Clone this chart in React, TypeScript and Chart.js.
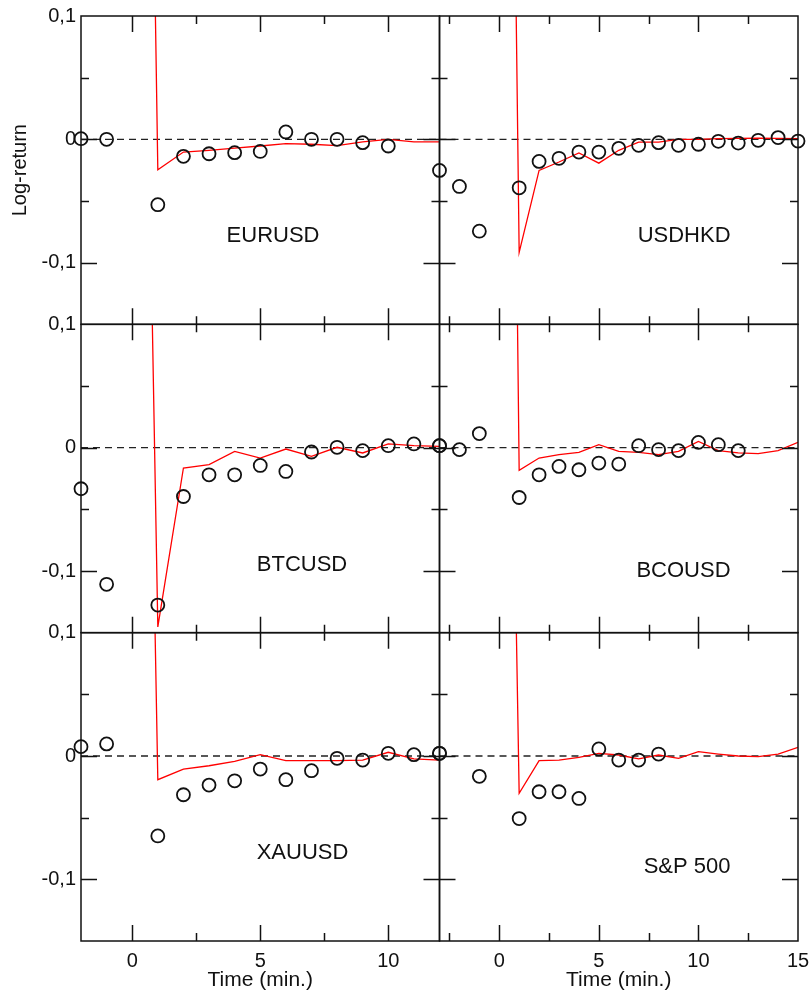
import React, { useEffect, useRef } from 'react';
import { Chart, registerables } from 'chart.js';

Chart.register(...registerables);

// ---------------- data ----------------
const X_RANGE_LEFT = [-2, 12];
const X_RANGE_RIGHT = [-3, 15];
const Y_RANGE = [-0.15, 0.1];

const X_LABELS_LEFT = [0, 5, 10];
const X_LABELS_RIGHT = [0, 5, 10, 15];
const Y_LABELS = [-0.1, 0, 0.1];
const X_MAJOR = [0, 5, 10, 15];
const X_MINOR = [-2.5, 2.5, 7.5, 12.5];
const Y_MAJOR = [-0.1, 0, 0.1];
const Y_MINOR = [-0.05, 0.05];

const MODEL_T_LEFT = [0, 1, 2, 3, 4, 5, 6, 7, 8, 9, 10, 11, 12];
const MODEL_T_RIGHT = [0, 1, 2, 3, 4, 5, 6, 7, 8, 9, 10, 11, 12, 13, 14, 15];

const EURUSD_T = [-2, -1, 1, 2, 3, 4, 5, 6, 7, 8, 9, 10];
const EURUSD_OBS = [0.0005, 0.0, -0.053, -0.0138, -0.0117, -0.0108, -0.0098, 0.006, 0.0, 0.0, -0.0027, -0.0054];
const EURUSD_MODEL = [1.3, -0.0247, -0.0103, -0.0089, -0.0071, -0.0054, -0.0035, -0.004, -0.0051, -0.0021, 0.0, -0.0021, -0.0021];

const USDHKD_T = [-3, -2, -1, 1, 2, 3, 4, 5, 6, 7, 8, 9, 10, 11, 12, 13, 14, 15];
const USDHKD_OBS = [-0.0252, -0.0382, -0.0745, -0.0393, -0.0179, -0.0154, -0.0103, -0.0103, -0.0073, -0.0049, -0.0027, -0.0049, -0.004, -0.0016, -0.003, -0.0008, 0.0014, -0.0014];
const USDHKD_MODEL = [1.2, -0.0916, -0.0252, -0.0184, -0.0111, -0.0193, -0.0089, -0.0022, -0.0022, 0.0, 0.0, 0.0005, 0.0008, 0.001, 0.0008, 0.0005];

const BTCUSD_T = [-2, -1, 1, 2, 3, 4, 5, 6, 7, 8, 9, 10, 11, 12];
const BTCUSD_OBS = [-0.0333, -0.1108, -0.1276, -0.0396, -0.022, -0.022, -0.0144, -0.0193, -0.0035, 0.0003, -0.0024, 0.0016, 0.003, 0.0016];
const BTCUSD_MODEL = [1.0, -0.1453, -0.0165, -0.0138, -0.003, -0.0084, -0.0011, -0.0071, 0.0003, -0.0043, 0.003, 0.0016, 0.001];

const BCOUSD_T = [-3, -2, -1, 1, 2, 3, 4, 5, 6, 7, 8, 9, 10, 11, 12];
const BCOUSD_OBS = [0.0016, -0.0016, 0.0114, -0.0404, -0.022, -0.0152, -0.0179, -0.0125, -0.0133, 0.0016, -0.0016, -0.0024, 0.0043, 0.0024, -0.0024];
const BCOUSD_MODEL = [1.4, -0.0184, -0.0084, -0.0057, -0.0038, 0.0024, -0.003, -0.0038, -0.0057, -0.003, 0.0051, -0.0024, -0.0043, -0.0049, -0.0024, 0.0043];

const XAUUSD_T = [-2, -1, 1, 2, 3, 4, 5, 6, 7, 8, 9, 10, 11, 12];
const XAUUSD_OBS = [0.0076, 0.0098, -0.0648, -0.0314, -0.0236, -0.0201, -0.0106, -0.0192, -0.0119, -0.0019, -0.0033, 0.0022, 0.0011, 0.0022];
const XAUUSD_MODEL = [1.1, -0.0192, -0.0106, -0.0079, -0.0043, 0.0011, -0.0038, -0.0038, -0.0038, -0.0033, 0.003, -0.0024, -0.0033];

const SP500_T = [-3, -1, 1, 2, 3, 4, 5, 6, 7, 8];
const SP500_OBS = [0.0022, -0.0165, -0.0507, -0.029, -0.029, -0.0344, 0.0057, -0.0033, -0.0033, 0.0016];
const SP500_MODEL = [0.9, -0.0303, -0.0038, -0.0033, -0.0011, 0.0022, 0.0008, -0.0024, 0.0008, -0.0019, 0.0035, 0.0016, 0.0, -0.0005, 0.0016, 0.007];

// ---------------- panel setup ----------------
const FONT = '"Liberation Sans", Arial, Helvetica, sans-serif';
const INK = '#111111';

const PANELS = [
  { name: 'EURUSD', x: 'xL', y: 'yT', range: X_RANGE_LEFT, t: EURUSD_T, obs: EURUSD_OBS, mt: MODEL_T_LEFT, model: EURUSD_MODEL, lx: 5.5, ly: -0.0785 },
  { name: 'USDHKD', x: 'xR', y: 'yT', range: X_RANGE_RIGHT, t: USDHKD_T, obs: USDHKD_OBS, mt: MODEL_T_RIGHT, model: USDHKD_MODEL, lx: 9.28, ly: -0.078 },
  { name: 'BTCUSD', x: 'xL', y: 'yM', range: X_RANGE_LEFT, t: BTCUSD_T, obs: BTCUSD_OBS, mt: MODEL_T_LEFT, model: BTCUSD_MODEL, lx: 6.63, ly: -0.0951 },
  { name: 'BCOUSD', x: 'xR', y: 'yM', range: X_RANGE_RIGHT, t: BCOUSD_T, obs: BCOUSD_OBS, mt: MODEL_T_RIGHT, model: BCOUSD_MODEL, lx: 9.25, ly: -0.0996 },
  { name: 'XAUUSD', x: 'xL', y: 'yB', range: X_RANGE_LEFT, t: XAUUSD_T, obs: XAUUSD_OBS, mt: MODEL_T_LEFT, model: XAUUSD_MODEL, lx: 6.65, ly: -0.0786 },
  { name: 'S&P 500', x: 'xR', y: 'yB', range: X_RANGE_RIGHT, t: SP500_T, obs: SP500_OBS, mt: MODEL_T_RIGHT, model: SP500_MODEL, lx: 9.43, ly: -0.0902 },
];

const fmtY = (v: number) => (Math.abs(v) < 1e-9 ? '0' : v.toFixed(1).replace('.', ','));

const panelClip = {
  id: 'panelClip',
  beforeDatasetDraw(chart: any, args: any) {
    const ds = chart.data.datasets[args.index];
    if (ds.clip === false) return;
    const { xScale, yScale } = args.meta;
    const ctx = chart.ctx;
    ctx.save();
    ctx.beginPath();
    ctx.rect(xScale.left, yScale.top, xScale.right - xScale.left, yScale.bottom - yScale.top);
    ctx.clip();
  },
  afterDatasetDraw(chart: any, args: any) {
    const ds = chart.data.datasets[args.index];
    if (ds.clip === false) return;
    chart.ctx.restore();
  },
};

const framePlugin = {
  id: 'frames',
  afterDatasetsDraw(chart: any) {
    const ctx = chart.ctx;
    ctx.save();
    for (const p of PANELS) {
      const xs = chart.scales[p.x];
      const ys = chart.scales[p.y];
      const l = xs.left, r = xs.right, t = ys.top, b = ys.bottom;
      ctx.strokeStyle = INK;
      ctx.lineWidth = 1.5;
      ctx.strokeRect(l, t, r - l, b - t);
      ctx.beginPath();
      const xt = [...X_MAJOR.map((v) => [v, 16]), ...X_MINOR.map((v) => [v, 8])];
      for (const [v, len] of xt) {
        if (v <= p.range[0] || v >= p.range[1]) continue;
        const px = Math.round(xs.getPixelForValue(v)) + 0.5;
        ctx.moveTo(px, b); ctx.lineTo(px, b - len);
        ctx.moveTo(px, t); ctx.lineTo(px, t + len);
      }
      const yt = [...Y_MAJOR.map((v) => [v, 16]), ...Y_MINOR.map((v) => [v, 8])];
      for (const [v, len] of yt) {
        if (v <= Y_RANGE[0] || v >= Y_RANGE[1]) continue;
        const py = Math.round(ys.getPixelForValue(v)) + 0.5;
        ctx.moveTo(l, py); ctx.lineTo(l + len, py);
        ctx.moveTo(r, py); ctx.lineTo(r - len, py);
      }
      ctx.stroke();
      ctx.fillStyle = INK;
      ctx.font = `22px ${FONT}`;
      ctx.textAlign = 'center';
      ctx.textBaseline = 'middle';
      ctx.fillText(p.name, xs.getPixelForValue(p.lx), ys.getPixelForValue(p.ly));
    }
    ctx.restore();
  },
};

function yAxis(weight: number, withTitle: boolean) {
  return {
    type: 'linear',
    position: 'left',
    stack: 'rows',
    stackWeight: 1,
    weight,
    min: Y_RANGE[0],
    max: Y_RANGE[1],
    grid: { display: false, drawTicks: false },
    border: { display: false },
    afterBuildTicks: (s: any) => { s.ticks = Y_LABELS.map((v) => ({ value: v })); },
    afterFit: (s: any) => {
      s.width = 81;
      s.paddingTop = 0; s.paddingBottom = 0; s.paddingLeft = 0; s.paddingRight = 0;
    },
    ticks: { autoSkip: false, padding: 5, color: INK, font: { family: FONT, size: 20 }, callback: (v: any) => fmtY(Number(v)) },
    title: withTitle
      ? { display: true, text: 'Log-return', color: INK, font: { family: FONT, size: 20 }, padding: { top: 8, bottom: 0 } }
      : { display: false },
  };
}

function xAxis(weight: number, range: number[], labels: number[]) {
  return {
    type: 'linear',
    position: 'bottom',
    stack: 'cols',
    stackWeight: 1,
    weight,
    min: range[0],
    max: range[1],
    grid: { display: false, drawTicks: false },
    border: { display: false },
    afterBuildTicks: (s: any) => { s.ticks = labels.map((v) => ({ value: v })); },
    afterFit: (s: any) => {
      s.height = 60;
      s.paddingTop = 0; s.paddingBottom = 0; s.paddingLeft = 0; s.paddingRight = 0;
    },
    ticks: { autoSkip: false, padding: 8, maxRotation: 0, minRotation: 0, color: INK, font: { family: FONT, size: 20 }, callback: (v: any) => String(v) },
    title: { display: true, text: 'Time (min.)', color: INK, font: { family: FONT, size: 21 }, padding: { top: 0, bottom: 8 } },
  };
}

export default function App() {
  const ref = useRef<HTMLCanvasElement | null>(null);

  useEffect(() => {
    if (!ref.current) return;
    const datasets: any[] = [];
    for (const p of PANELS) {
      datasets.push({
        label: p.name,
        data: p.t.map((t, i) => ({ x: t, y: p.obs[i] })),
        xAxisID: p.x,
        yAxisID: p.y,
        showLine: false,
        pointStyle: 'circle',
        pointRadius: 6.5,
        pointBorderWidth: 1.8,
        pointBorderColor: INK,
        pointBackgroundColor: 'rgba(0,0,0,0)',
        clip: false,
        order: 0,
      });
      datasets.push({
        label: p.name + ' model',
        data: p.mt.map((t, i) => ({ x: t, y: p.model[i] })),
        xAxisID: p.x,
        yAxisID: p.y,
        showLine: true,
        borderColor: '#ff0000',
        borderWidth: 1.3,
        pointRadius: 0,
        tension: 0,
        order: 1,
      });
      datasets.push({
        label: p.name + ' zero',
        data: [{ x: p.range[0], y: 0 }, { x: p.range[1], y: 0 }],
        xAxisID: p.x,
        yAxisID: p.y,
        showLine: true,
        borderColor: '#222222',
        borderWidth: 1.3,
        borderDash: [7, 5],
        pointRadius: 0,
        order: 2,
      });
    }

    const chart = new Chart(ref.current, {
      type: 'scatter',
      data: { datasets },
      options: {
        animation: false,
        responsive: false,
        layout: { autoPadding: false, padding: { left: 0, top: 16, right: 14, bottom: 0 } },
        plugins: { legend: { display: false }, tooltip: { enabled: false } },
        scales: {
          yT: yAxis(3, true),
          yM: yAxis(2, false),
          yB: yAxis(1, false),
          xL: xAxis(1, X_RANGE_LEFT, X_LABELS_LEFT),
          xR: xAxis(2, X_RANGE_RIGHT, X_LABELS_RIGHT),
        } as any,
      },
      plugins: [panelClip, framePlugin],
    } as any);
    return () => chart.destroy();
  }, []);

  return (
    <div style={{ position: 'absolute', left: 0, top: 0, width: 812, height: 1001 }}>
      <canvas ref={ref} width={812} height={1001} style={{ display: 'block' }} />
    </div>
  );
}
